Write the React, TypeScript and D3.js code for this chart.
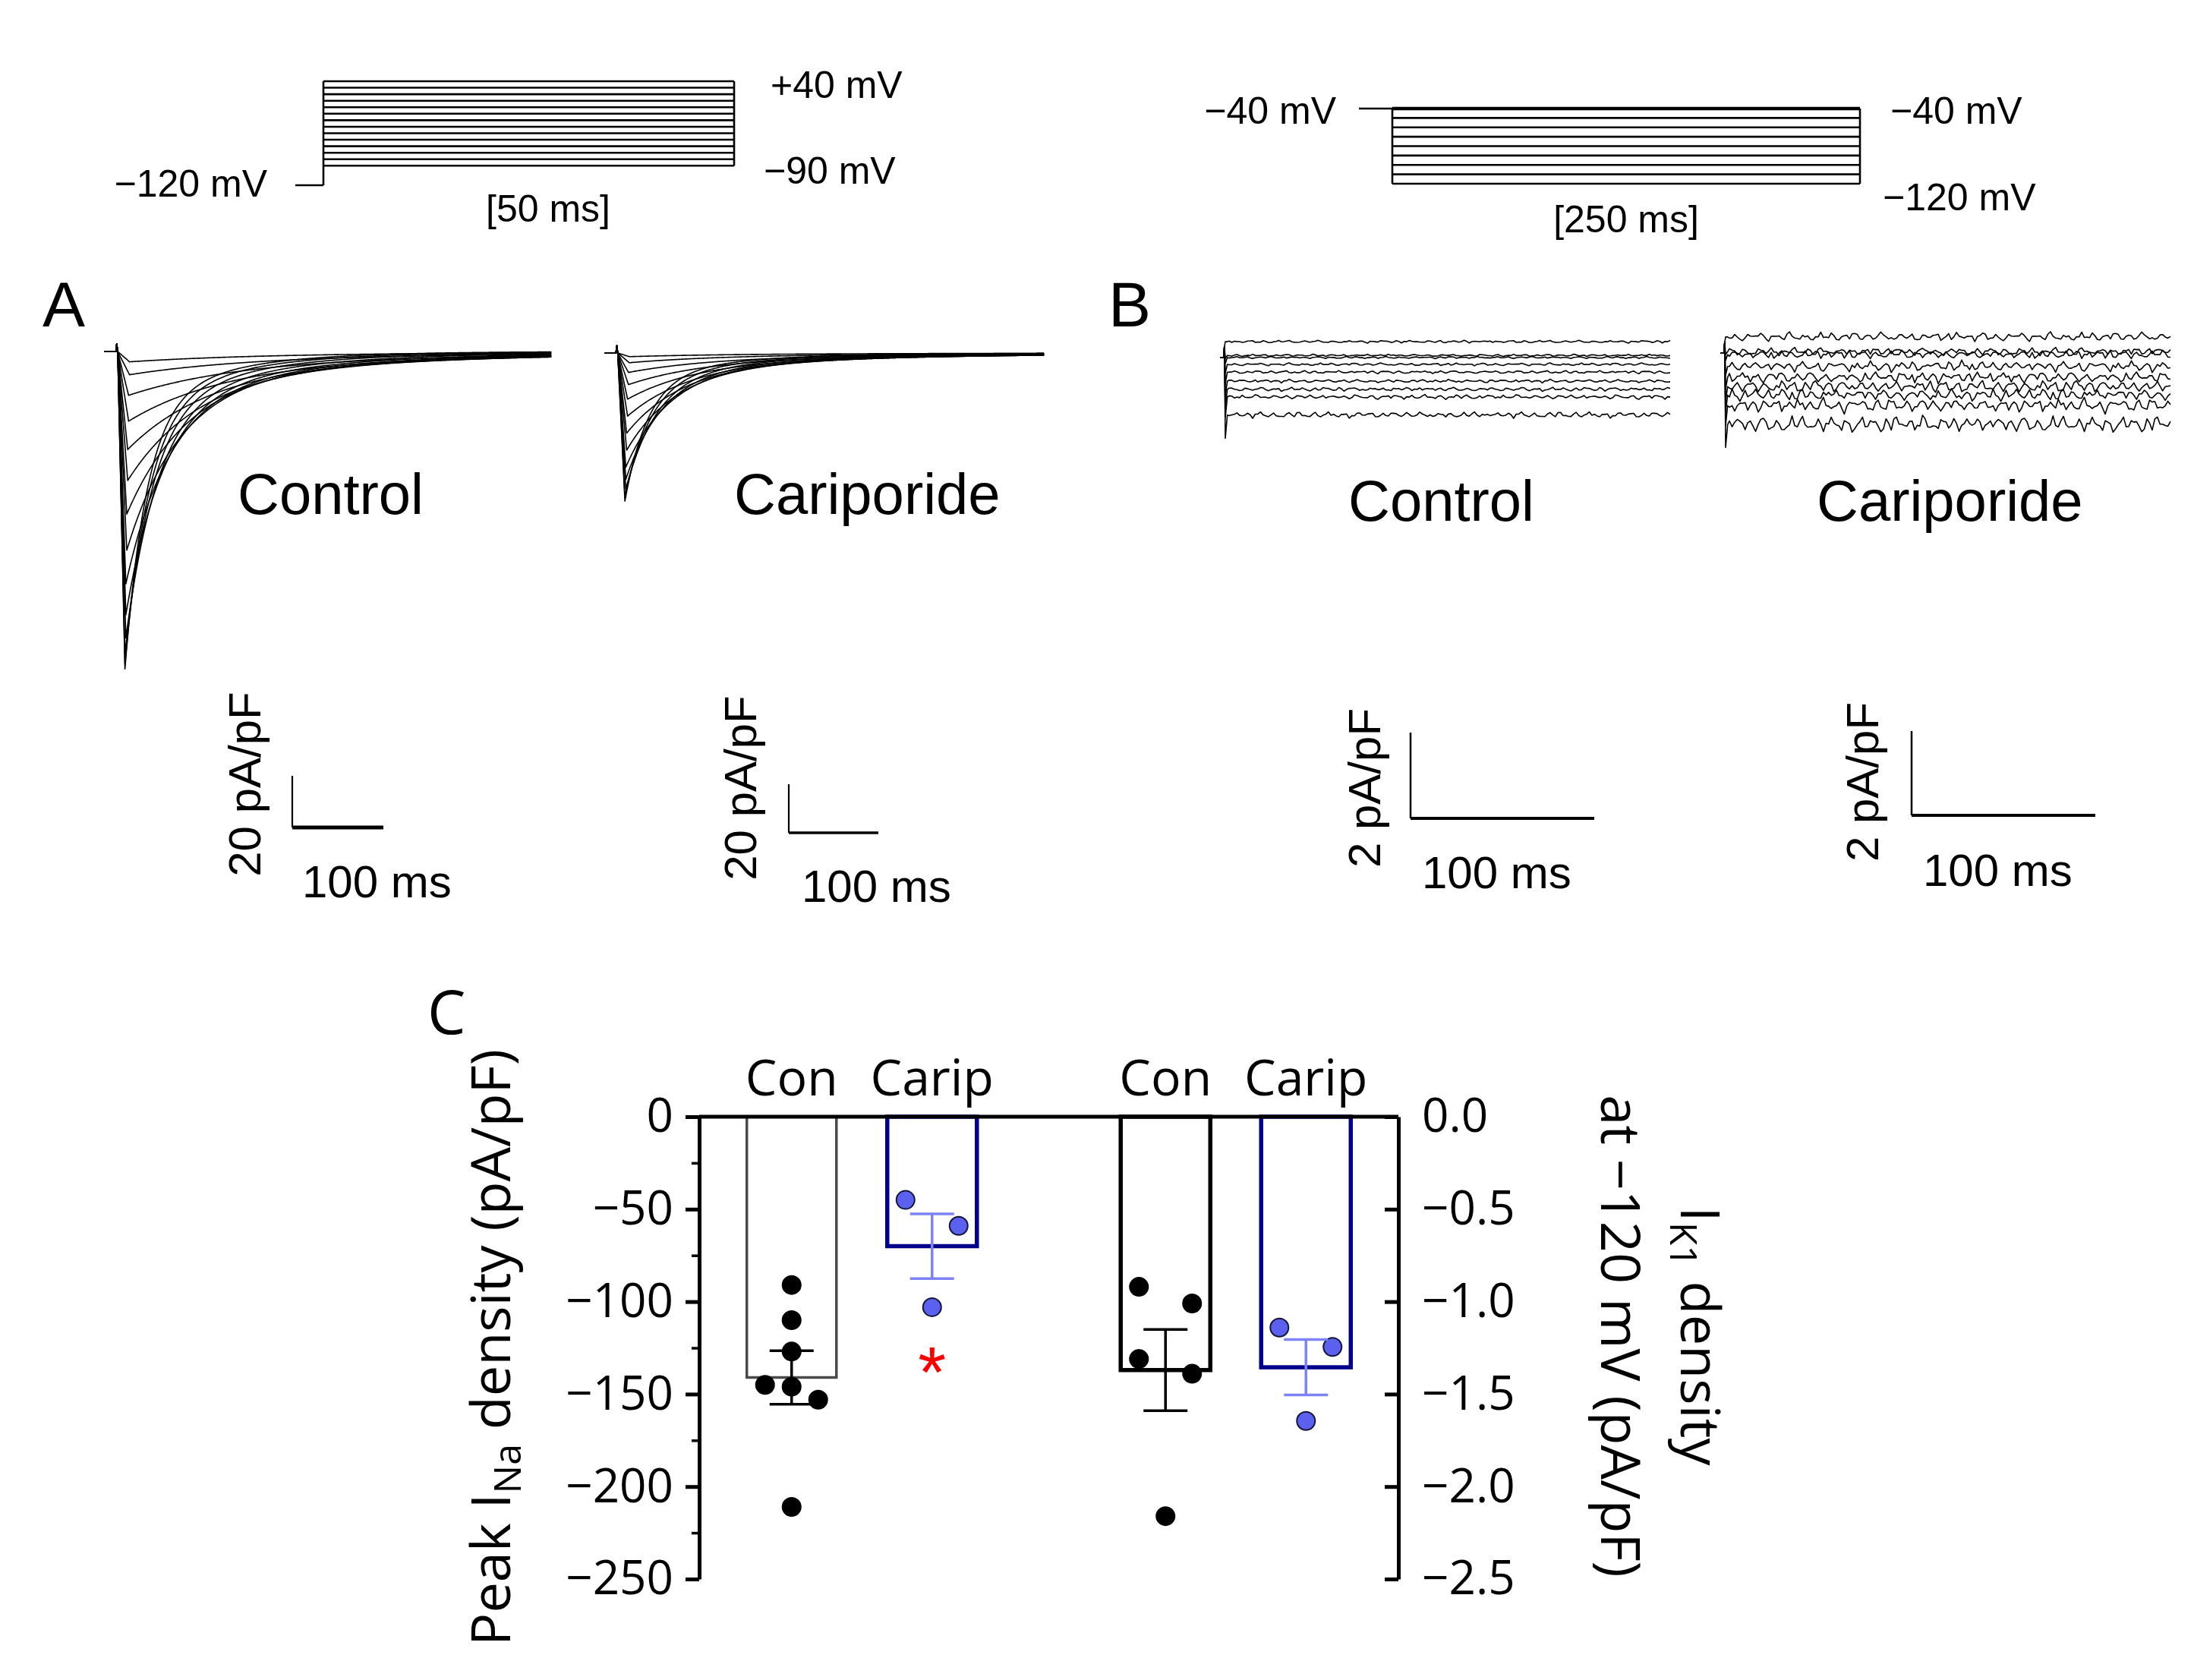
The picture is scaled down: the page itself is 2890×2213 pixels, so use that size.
import React, { useRef, useEffect } from "react";
import { select, scaleLinear, scaleBand, axisLeft, axisRight, line, range, format } from "d3";

// ---------- protocols (mV) ----------
const naSteps = [-90, -80, -70, -60, -50, -40, -30, -20, -10, 0, 10, 20, 30, 40];
const naHold = -120;
const naPulseMs = 50;
const k1Steps = [-40, -50, -60, -70, -80, -90, -100, -110, -120];
const k1Hold = -40;
const k1PulseMs = 250;

// ---------- panel A: INa sweeps (peak pA/pF, decay tau ms, time to peak ms) ----------
const naControlPeak = [-123, -121, -117, -111, -102, -90, -77, -63, -50, -38, -27, -17, -9, -4];
const naControlTau = [24, 27, 31, 36, 42, 49, 57, 66, 78, 92, 108, 125, 140, 150];
const naControlTp = [9, 9, 9, 10, 10, 10, 11, 11, 12, 12, 13, 13, 14, 14];
const naCaripPeak = [-61, -59, -56, -52, -47, -40, -33, -26, -19, -13, -8, -4, -1.5];
const naCaripTau = [26, 30, 35, 41, 48, 55, 62, 70, 80, 90, 100, 110, 120];
const naCaripTp = [9, 9, 10, 10, 10, 11, 11, 12, 12, 13, 13, 14, 14];

// ---------- panel B: IK1 steady levels (pA/pF) and noise size ----------
const k1ControlLevel = [0.37, 0.05, 0.0, -0.16, -0.34, -0.55, -0.74, -0.92, -1.34];
const k1ControlNoise = [0.045, 0.035, 0.035, 0.045, 0.05, 0.055, 0.065, 0.075, 0.1];
const k1CaripLevel = [0.38, 0.03, -0.04, -0.32, -0.58, -0.8, -1.0, -1.25, -1.7];
const k1CaripNoise = [0.15, 0.14, 0.14, 0.17, 0.18, 0.2, 0.21, 0.23, 0.27];
// hand-drawn noise texture for the recordings
const wiggle = [0.2, -0.4, 0.1, 0.6, -0.3, -0.8, 0.0, 0.5, 0.9, 0.3, -0.2, -0.6, -0.1, 0.4, 0.2, -0.5, -0.9, -0.3, 0.3, 0.7,
  0.1, -0.2, 0.5, 0.8, 0.2, -0.4, -0.7, -0.2, 0.1, 0.6, 0.0, -0.5, -0.3, 0.4, 0.9, 0.4, -0.1, -0.6, -0.4, 0.2,
  0.5, -0.1, -0.8, -0.5, 0.0, 0.3, 0.7, 0.2, -0.3, 0.1, 0.6, 0.3, -0.4, -0.9, -0.2, 0.4, 0.1, -0.3, 0.5, 0.8,
  0.4, -0.2, -0.5, 0.0, 0.6, 0.2, -0.6, -0.3, 0.3, 0.9, 0.5, -0.1, -0.4, 0.1, -0.7, -0.2, 0.4, 0.7, 0.0, -0.5,
  0.2, 0.6, -0.1, -0.8, -0.4, 0.3, 0.5, 0.1, -0.3, 0.4, 0.8, 0.2, -0.6, -0.2, 0.1, 0.5, -0.4, 0.0, 0.7, 0.3];

// ---------- panel C ----------
const groups = ["INa", "IK1"];
const conds = ["Con", "Carip"];
const inaMean = [-141, -70];
const inaSem = [14.5, 17.5];
const ik1Mean = [-1.37, -1.355];
const ik1Sem = [0.22, 0.15];
const inaConDots = [-91, -110, -127, -145, -146, -153, -211];
const inaConSlot = [0, 0, 0, -1, 0, 1, 0];
const inaCaripDots = [-45, -59, -103];
const inaCaripSlot = [-1, 1, 0];
const ik1ConDots = [-0.92, -1.01, -1.31, -1.39, -2.16];
const ik1ConSlot = [-1, 1, -1, 1, 0];
const ik1CaripDots = [-1.14, -1.245, -1.645];
const ik1CaripSlot = [-1, 1, 0];
const naTicks = [0, -50, -100, -150, -200, -250];
const naMinor = [-25, -75, -125, -175, -225];
const k1Ticks = [0, -0.5, -1, -1.5, -2, -2.5];

const fontA = "'Liberation Sans', Arial, sans-serif";
const fontC = "'Open Sans', sans-serif";
const navy = "#00008b";
const dotBlue = "#5b61ee";
const errBlue = "#7d82f4";

// ---------- trace builders ----------
const naTime = range(0, 492, 1);
const preStep = 14;
const slowFrac = 0.18;
function naTrace(peak: number, tau: number, tp: number): [number, number][] {
  return naTime.map((t) => {
    if (t < preStep) return [t, 0];
    const u = t - preStep;
    if (u < 1) return [t, 3];
    if (u < tp) return [t, (peak * (u - 1)) / (tp - 1)];
    const d = u - tp;
    return [t, peak * ((1 - slowFrac) * Math.exp(-d / tau) + slowFrac * Math.exp(-d / (4 * tau)))];
  });
}
const nSamples = 170;
function k1Trace(level: number, amp: number, v: number, shift: number): [number, number][] {
  const pts: [number, number][] = [[0, 0], [2, 0], [2.4, 0.25], [2.9, level - 0.0068 * (k1Hold - v)], [4, level]];
  const n = wiggle.length;
  for (let i = 0; i < nSamples; i++) {
    const w = 0.65 * wiggle[(i + shift) % n] + 0.35 * wiggle[(i * 3 + shift * 2 + 7) % n];
    pts.push([5 + (i * 240) / (nSamples - 1), level + amp * w]);
  }
  return pts;
}

// ---------- scales ----------
const vA = scaleLinear().domain([-120, 40]).range([244, 107]);
const tA = scaleLinear().domain([0, naPulseMs]).range([426, 967]);
const vB = scaleLinear().domain([-120, -40]).range([242, 143]);
const tB = scaleLinear().domain([0, k1PulseMs]).range([1834, 2450]);

const xNaCon = scaleLinear().domain([0, 490]).range([137, 725]);
const yNaCon = scaleLinear().domain([0, -20]).range([463, 531]);
const xNaCar = scaleLinear().domain([0, 490]).range([796, 1374]);
const yNaCar = scaleLinear().domain([0, -20]).range([465, 529]);
const xK1Con = scaleLinear().domain([0, 245]).range([1607, 2200]);
const yK1Con = scaleLinear().domain([0, 2]).range([471, 358]);
const xK1Car = scaleLinear().domain([0, 245]).range([2266, 2859]);
const yK1Car = scaleLinear().domain([0, 2]).range([465, 354]);

const yNa = scaleLinear().domain([0, -250]).range([1471, 2080]);
const yK = scaleLinear().domain([0, -2.5]).range([1471, 2080]);
const xGroup = scaleBand().domain(groups).range([889, 1874]);
const xCond = scaleBand().domain(conds).range([0, xGroup.bandwidth()]).paddingInner(0.362).paddingOuter(0.512);
const axisL = 921;
const axisR = 1842;

function ScaleBar({ x, y, dx, dy, vLabel, hLabel, vx, vy, hx, hy, vw, hw }: any) {
  return (
    <g>
      <line x1={x} x2={x} y1={y} y2={y - dy} stroke="#000" strokeWidth={vw} />
      <line x1={x} x2={x + dx} y1={y} y2={y} stroke="#000" strokeWidth={hw} />
      <text transform={`translate(${vx},${vy}) rotate(-90)`} textAnchor="middle" fontSize={60} fontFamily={fontA}>{vLabel}</text>
      <text x={hx} y={hy} fontSize={60} fontFamily={fontA}>{hLabel}</text>
    </g>
  );
}

function App() {
  const leftRef = useRef<SVGGElement>(null);
  const rightRef = useRef<SVGGElement>(null);

  useEffect(() => {
    const left = select(leftRef.current);
    left.selectAll("*").remove();
    left.call(axisLeft(yNa).tickValues(naTicks).tickSize(18).tickSizeOuter(0).tickPadding(16).tickFormat(format("d")) as any);
    left.selectAll(".tick line").attr("stroke-width", 5);
    const minor = left.append("g").call(axisLeft(yNa).tickValues(naMinor).tickSize(10).tickFormat(() => "") as any);
    minor.select(".domain").remove();
    minor.selectAll("line").attr("stroke-width", 3.5);
    left.select(".domain").attr("stroke-width", 5);
    left.selectAll("text").attr("font-size", 62).attr("font-family", fontC).attr("fill", "#000");

    const right = select(rightRef.current);
    right.selectAll("*").remove();
    right.call(axisRight(yK).tickValues(k1Ticks).tickSizeInner(-18).tickSizeOuter(0).tickPadding(31).tickFormat(format(".1f")) as any);
    right.selectAll(".tick line").attr("stroke-width", 5);
    right.select(".domain").attr("stroke-width", 5);
    right.selectAll("text").attr("font-size", 62).attr("font-family", fontC).attr("fill", "#000");
  }, []);

  const naConLine = line<[number, number]>().x((d) => xNaCon(d[0])).y((d) => yNaCon(d[1]));
  const naCarLine = line<[number, number]>().x((d) => xNaCar(d[0])).y((d) => yNaCar(d[1]));
  const k1ConLine = line<[number, number]>().x((d) => xK1Con(d[0])).y((d) => yK1Con(d[1]));
  const k1CarLine = line<[number, number]>().x((d) => xK1Car(d[0])).y((d) => yK1Car(d[1]));

  const bw = xCond.bandwidth();
  const cx = (g: string, c: string) => (xGroup(g) as number) + (xCond(c) as number) + bw / 2;
  const jitter = 35;

  const bars = [
    { g: "INa", c: "Con", y: yNa, mean: inaMean[0], sem: inaSem[0], stroke: "#4a4a4a", sw: 3.5, err: "#000" },
    { g: "INa", c: "Carip", y: yNa, mean: inaMean[1], sem: inaSem[1], stroke: navy, sw: 5.5, err: errBlue },
    { g: "IK1", c: "Con", y: yK, mean: ik1Mean[0], sem: ik1Sem[0], stroke: "#000", sw: 5.5, err: "#000" },
    { g: "IK1", c: "Carip", y: yK, mean: ik1Mean[1], sem: ik1Sem[1], stroke: navy, sw: 5.5, err: errBlue },
  ];
  const dotSets = [
    { g: "INa", c: "Con", y: yNa, vals: inaConDots, slots: inaConSlot, fill: "#000" },
    { g: "INa", c: "Carip", y: yNa, vals: inaCaripDots, slots: inaCaripSlot, fill: dotBlue },
    { g: "IK1", c: "Con", y: yK, vals: ik1ConDots, slots: ik1ConSlot, fill: "#000" },
    { g: "IK1", c: "Carip", y: yK, vals: ik1CaripDots, slots: ik1CaripSlot, fill: dotBlue },
  ];

  return (
    <svg width={2890} height={2213} viewBox="0 0 2890 2213"
      style={{ position: "absolute", left: 0, top: 0, background: "#fff", display: "block" }}>
      <rect x={0} y={0} width={2890} height={2213} fill="#fff" />

      {/* ---------- protocol A ---------- */}
      <g stroke="#000" strokeWidth={2.6} fill="none">
        <line x1={389} x2={tA(0)} y1={vA(naHold)} y2={vA(naHold)} />
        <line x1={tA(0)} x2={tA(0)} y1={vA(naHold)} y2={vA(40)} />
        <line x1={tA(naPulseMs)} x2={tA(naPulseMs)} y1={vA(-90)} y2={vA(40)} />
        {naSteps.map((v) => (
          <line key={v} x1={tA(0)} x2={tA(naPulseMs)} y1={vA(v)} y2={vA(v)} />
        ))}
      </g>
      <g fontFamily={fontA} fontSize={50} fill="#000">
        <text x={352} y={259} textAnchor="end">−120 mV</text>
        <text x={1015} y={129}>+40 mV</text>
        <text x={1006} y={242}>−90 mV</text>
        <text x={722} y={292} textAnchor="middle">[50 ms]</text>
      </g>

      {/* ---------- protocol B ---------- */}
      <g stroke="#000" fill="none">
        <line x1={1790} x2={tB(0)} y1={vB(k1Hold)} y2={vB(k1Hold)} strokeWidth={2.6} />
        <line x1={tB(0)} x2={tB(0)} y1={vB(-40)} y2={vB(-120)} strokeWidth={2.6} />
        <line x1={tB(k1PulseMs)} x2={tB(k1PulseMs)} y1={vB(-40)} y2={vB(-120)} strokeWidth={2.6} />
        {k1Steps.map((v) => (
          <line key={v} x1={tB(0)} x2={tB(k1PulseMs)} y1={vB(v)} y2={vB(v)} strokeWidth={v === k1Hold ? 4.5 : 2.6} />
        ))}
      </g>
      <g fontFamily={fontA} fontSize={50} fill="#000">
        <text x={1760} y={163} textAnchor="end">−40 mV</text>
        <text x={2490} y={163}>−40 mV</text>
        <text x={2480} y={277}>−120 mV</text>
        <text x={2142} y={306} textAnchor="middle">[250 ms]</text>
      </g>

      {/* ---------- panel A ---------- */}
      <text x={56} y={430} fontFamily={fontA} fontSize={84}>A</text>
      <g fill="none" stroke="#000" strokeWidth={1.6} strokeLinejoin="round">
        {naControlPeak.map((p, i) => (
          <path key={"c" + i} d={naConLine(naTrace(p, naControlTau[i], naControlTp[i])) as string} />
        ))}
        {naCaripPeak.map((p, i) => (
          <path key={"k" + i} d={naCarLine(naTrace(p, naCaripTau[i], naCaripTp[i])) as string} />
        ))}
      </g>
      <text x={313} y={677} fontFamily={fontA} fontSize={76}>Control</text>
      <text x={967} y={677} fontFamily={fontA} fontSize={76}>Cariporide</text>
      <ScaleBar x={385} y={1090} dx={xNaCon(100) - xNaCon(0)} dy={yNaCon(-20) - yNaCon(0)} vw={2.2} hw={5}
        vLabel="20 pA/pF" hLabel="100 ms" vx={343} vy={1033} hx={398} hy={1182} />
      <ScaleBar x={1039} y={1097} dx={xNaCar(100) - xNaCar(0)} dy={yNaCar(-20) - yNaCar(0)} vw={2.2} hw={3.5}
        vLabel="20 pA/pF" hLabel="100 ms" vx={996} vy={1038} hx={1056} hy={1188} />

      {/* ---------- panel B ---------- */}
      <text x={1460} y={430} fontFamily={fontA} fontSize={84}>B</text>
      <g fill="none" stroke="#000" strokeWidth={1.6} strokeLinejoin="round">
        {k1ControlLevel.map((lv, i) => (
          <path key={"c" + i} d={k1ConLine(k1Trace(lv, k1ControlNoise[i], k1Steps[i], (i * 37) % 100)) as string} />
        ))}
        {k1CaripLevel.map((lv, i) => (
          <path key={"k" + i} d={k1CarLine(k1Trace(lv, k1CaripNoise[i], k1Steps[i], (i * 23 + 11) % 100)) as string} />
        ))}
      </g>
      <text x={1776} y={686} fontFamily={fontA} fontSize={76}>Control</text>
      <text x={2393} y={686} fontFamily={fontA} fontSize={76}>Cariporide</text>
      <ScaleBar x={1858} y={1078} dx={xK1Con(100) - xK1Con(0)} dy={yK1Con(0) - yK1Con(2)} vw={2.5} hw={4}
        vLabel="2 pA/pF" hLabel="100 ms" vx={1818} vy={1038} hx={1873} hy={1170} />
      <ScaleBar x={2518} y={1074} dx={xK1Car(100) - xK1Car(0)} dy={yK1Car(0) - yK1Car(2)} vw={2.5} hw={4}
        vLabel="2 pA/pF" hLabel="100 ms" vx={2474} vy={1030} hx={2533} hy={1167} />

      {/* ---------- panel C ---------- */}
      <text x={563} y={1362} fontFamily={fontC} fontSize={80}>C</text>
      {bars.map((b) => (
        <rect key={b.g + b.c} x={cx(b.g, b.c) - bw / 2} y={b.y(0)} width={bw} height={b.y(b.mean) - b.y(0)}
          fill="#fff" stroke={b.stroke} strokeWidth={b.sw} />
      ))}
      <line x1={axisL} x2={axisR} y1={yNa(0)} y2={yNa(0)} stroke="#000" strokeWidth={5} />
      {dotSets.map((s) =>
        s.vals.map((v, i) => (
          <circle key={s.g + s.c + i} cx={cx(s.g, s.c) + s.slots[i] * jitter} cy={s.y(v)} r={12}
            fill={s.fill} stroke={s.fill === "#000" ? "#000" : "#15153a"} strokeWidth={2} />
        ))
      )}
      {bars.map((b) => {
        const x = cx(b.g, b.c);
        return (
          <g key={"e" + b.g + b.c} stroke={b.err} strokeWidth={3.5}>
            <line x1={x} x2={x} y1={b.y(b.mean + b.sem)} y2={b.y(b.mean - b.sem)} />
            <line x1={x - 29} x2={x + 29} y1={b.y(b.mean + b.sem)} y2={b.y(b.mean + b.sem)} />
            <line x1={x - 29} x2={x + 29} y1={b.y(b.mean - b.sem)} y2={b.y(b.mean - b.sem)} />
          </g>
        );
      })}
      <text x={cx("INa", "Carip")} y={yNa(-135) + 40} textAnchor="middle" fontFamily={fontA} fontSize={95}
        fill="#ff0000">*</text>
      {groups.map((g) =>
        conds.map((c) => (
          <text key={g + c} x={cx(g, c)} y={1443} textAnchor="middle" fontFamily={fontC} fontSize={66}>{c}</text>
        ))
      )}
      <g ref={leftRef} transform={`translate(${axisL},0)`} />
      <g ref={rightRef} transform={`translate(${axisR},0)`} />
      <text transform="translate(672,1775) rotate(-90)" textAnchor="middle" fontFamily={fontC} fontSize={72}>
        Peak I<tspan fontSize={50} dy={14}>Na</tspan><tspan dy={-14}> density (pA/pF)</tspan>
      </text>
      <text transform="translate(2214,1760) rotate(90)" textAnchor="middle" fontFamily={fontC} fontSize={72}>
        I<tspan fontSize={50} dy={14}>K1</tspan><tspan dy={-14}> density</tspan>
      </text>
      <text transform="translate(2109,1760) rotate(90)" textAnchor="middle" fontFamily={fontC} fontSize={72}>
        at −120 mV (pA/pF)
      </text>
    </svg>
  );
}

export default App;
